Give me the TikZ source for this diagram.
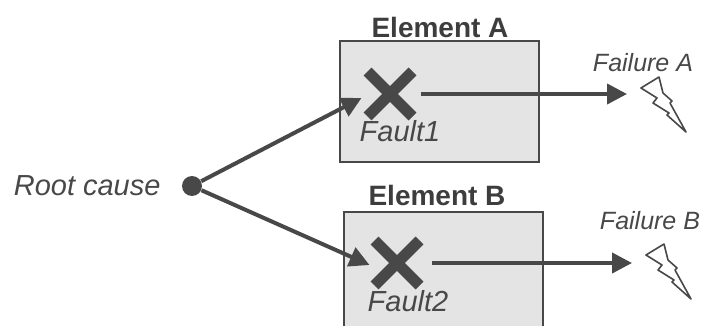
\documentclass[tikz,border=0pt]{standalone}
\usepackage{fontspec}
\setsansfont{Liberation Sans}
\usepackage{tikz}
\usetikzlibrary{arrows.meta,positioning,shapes.misc}
\definecolor{boxgray}{RGB}{228,228,228}
\definecolor{inkgray}{RGB}{72,72,72}

\begin{document}
\begin{tikzpicture}[x=0.5pt, y=-0.5pt,
    elem/.style={draw=inkgray, line width=1.2pt, fill=boxgray, minimum width=99.5pt, minimum height=60.5pt, inner sep=0pt},
    ttl/.style={font=\sffamily\bfseries\fontsize{14}{16}\selectfont, text=inkgray!85!black},
    lbl/.style={font=\sffamily\itshape\fontsize{14.5}{16}\selectfont, text=inkgray},
    fail/.style={font=\sffamily\itshape\fontsize{12.5}{15}\selectfont, text=inkgray},
    fault/.style={cross out, draw=inkgray, line width=5.5pt, minimum size=17pt, inner sep=0pt},
    arr/.style={-{Triangle[length=10pt,width=10pt]}, draw=inkgray, line width=2pt},
    bolt/.pic={\draw[inkgray, line width=0.8pt, line join=round] (0,0) -- (18,-11) -- (22,5) -- (31,13) -- (29,15) -- (45,44) -- (26,27) -- (28,25) -- (12,15) -- (16,10) -- cycle;}
]
    \clip (0,0) rectangle (707,326);

    % the two elements
    \node[elem] (boxA) at (439.5,101.5) {};
    \node[elem] (boxB) at (443.5,272.5) {};
    \node[ttl] (titleA) at (440,27) {Element A};
    \node[ttl] (titleB) at (437,195) {Element B};

    \node[fault] (faultA) at (390,94) {};
    \node[fault] (faultB) at (397,263) {};
    \node[lbl] (fault1) at (400,131) {Fault1};
    \node[lbl] (fault2) at (408,301) {Fault2};

    % root cause
    \node[circle, fill=inkgray, minimum size=10pt, inner sep=0pt] (root) at (192,186) {};
    \node[lbl, left=7pt of root] (rootlbl) {Root cause};

    \draw[arr] (root) -- ([xshift=-3pt, yshift=-2pt]faultA.west);
    \draw[arr] (root) -- ([xshift=-2.5pt, yshift=-1pt]faultB.west);

    % failures
    \coordinate (hitA) at (627,94);
    \coordinate (hitB) at (632,263);
    \draw[arr, shorten <=4pt] (faultA.east) -- (hitA);
    \draw[arr, shorten <=6pt] (faultB.east) -- (hitB);

    \node[fail] (failA) at (643,63) {Failure A};
    \node[fail] (failB) at (650,221) {Failure B};
    \pic at (641,88) {bolt};
    \pic at (646,255) {bolt};

\end{tikzpicture}
\end{document}
